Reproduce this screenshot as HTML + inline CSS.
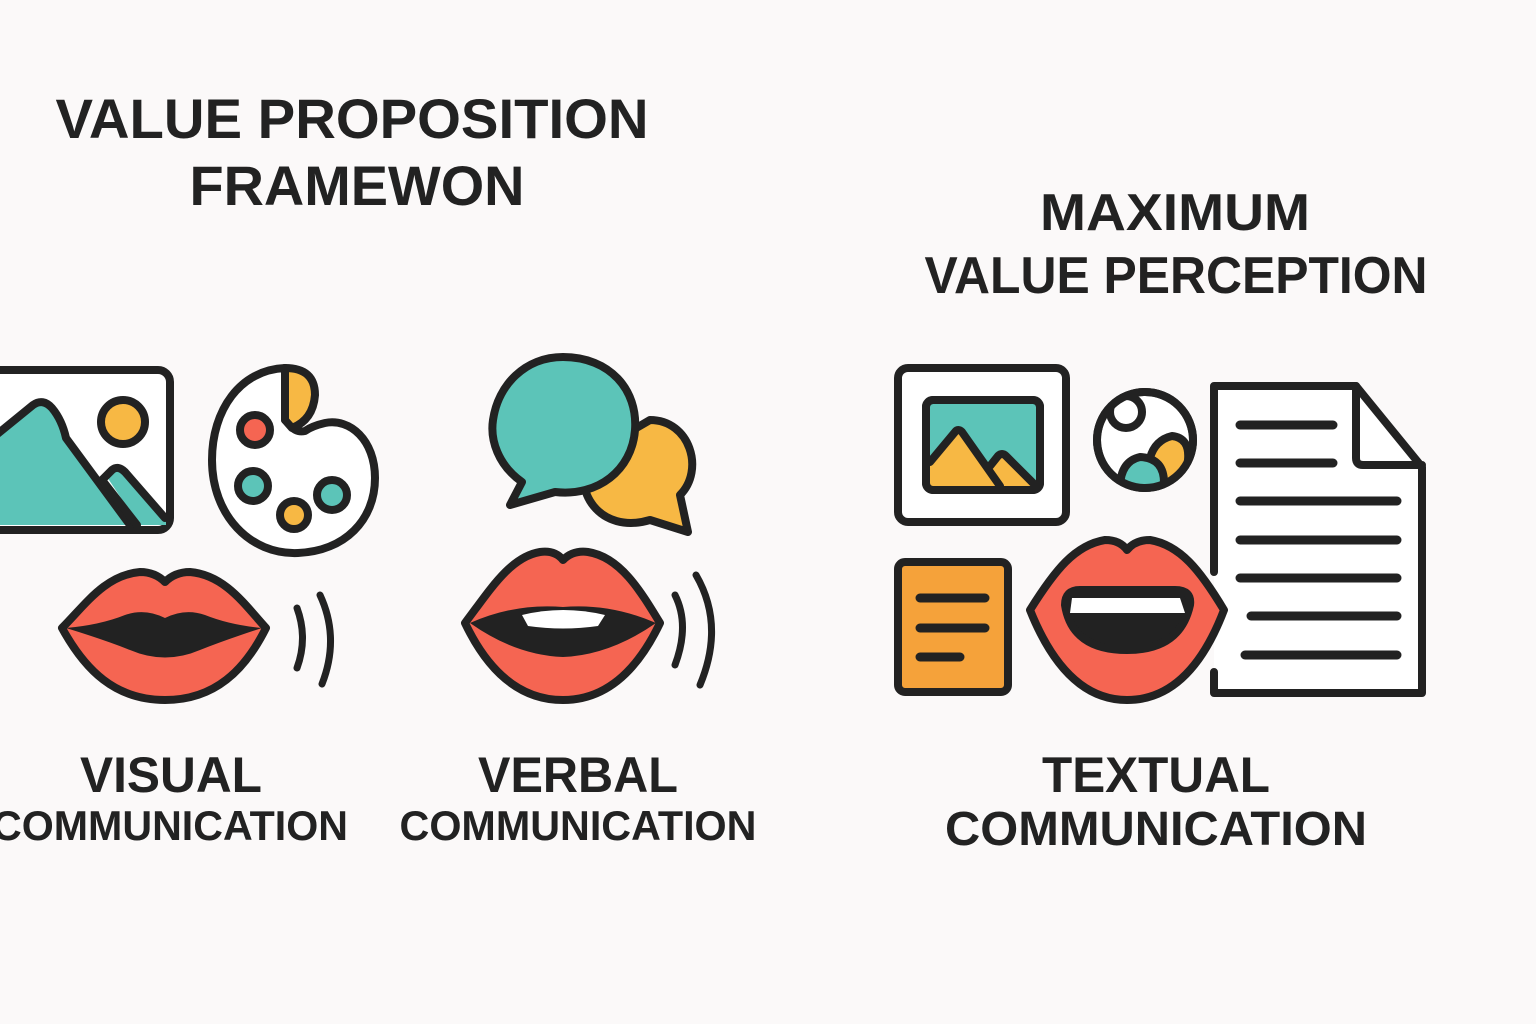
<!DOCTYPE html>
<html><head><meta charset="utf-8"><style>
html,body{margin:0;padding:0;background:#fbf9f9}
svg{display:block}
text{font-family:"Liberation Sans",sans-serif;font-weight:bold;fill:#222;text-anchor:middle}
</style></head><body>
<svg width="1536" height="1024" viewBox="0 0 1536 1024" xmlns="http://www.w3.org/2000/svg">
<defs><clipPath id="g"><circle cx="1145" cy="440" r="46"/></clipPath></defs>
<rect width="1536" height="1024" fill="#fbf9f9"/>
<g stroke="#222" stroke-width="8" stroke-linejoin="round" stroke-linecap="round">
<path d="M-10 370 H158 a12 12 0 0 1 12 12 V518 a12 12 0 0 1 -12 12 H-10" fill="#fff"/>
<path d="M-10 440 L33 405 Q43 398 52 408 Q62 420 66 438 L130 518 L166 518 L166 525 L-10 525Z" fill="#5cc4b8" stroke="none"/>
<path d="M-10 440 L33 405 Q43 398 52 408 Q62 420 66 438 L130 525" fill="none"/>
<path d="M107 477 L112 470 Q118 465 125 472 L163 520 L137 522Z" fill="#5cc4b8" stroke="none"/>
<path d="M102 480 L112 470 Q118 465 125 472 L165 518 M102 480 L137 525" fill="none"/>
<circle cx="123" cy="422" r="22" fill="#f7b844"/>
<path d="M285 368 C240 370 212 410 212 460 C212 515 250 555 298 553 C345 551 375 520 375 478 C375 440 350 418 325 423 Q312 426 305 431 Q296 433 290 425Z" fill="#fff"/>
<path d="M285 368 Q315 368 315 395 Q313 420 292 428 L285 420Z" fill="#f7b844"/>
<path d="M285 368 V420"/>
<circle cx="255" cy="430" r="15" fill="#f56552"/>
<circle cx="253" cy="486" r="15" fill="#5cc4b8"/>
<circle cx="294" cy="515" r="14" fill="#f7b844"/>
<circle cx="332" cy="495" r="15" fill="#5cc4b8"/>
<path d="M62 628 C85 605 105 575 140 572 Q155 572 165 582 Q175 572 190 572 C225 575 245 605 266 628 C245 670 215 700 165 700 C115 700 85 670 62 628Z" fill="#f56552"/>
<path d="M66 628 Q100 625 125 615 Q145 608 165 618 Q185 608 205 615 Q230 625 262 628 Q225 640 200 650 Q165 665 130 650 Q105 640 66 628Z" fill="#222" stroke="none"/>
<path d="M297 608 Q308 638 297 668 M320 595 Q340 638 322 684" fill="none" stroke-width="7"/>
<path d="M650 420 C690 420 705 470 680 495 L688 532 L650 520 C600 535 570 490 590 455Z" fill="#f7b844"/>
<path d="M563 357 C610 357 638 390 635 430 C632 470 598 497 555 492 L510 505 L522 482 C498 465 490 440 493 420 C498 385 525 357 563 357Z" fill="#5cc4b8"/>
<path d="M465 623 C490 590 510 557 540 552 Q555 550 563 560 Q573 550 588 552 C620 557 640 590 660 623 C640 665 610 700 563 700 C515 700 485 665 465 623Z" fill="#f56552"/>
<path d="M470 623 Q515 603 563 607 Q610 603 656 623 Q610 655 563 657 Q515 655 470 623Z" fill="#222" stroke="none"/>
<path d="M522 615 Q563 605 605 615 L598 626 Q563 631 528 626Z" fill="#fff" stroke="none"/>
<path d="M675 595 Q690 625 675 665 M696 575 Q725 625 700 685" fill="none" stroke-width="7"/>
<rect x="898" y="368" width="168" height="154" rx="10" fill="#fff"/>
<rect x="926" y="400" width="114" height="90" rx="7" fill="#5cc4b8"/>
<path d="M930 462 L955 432 Q958 428 962 432 L990 466 L998 456 Q1002 452 1006 456 L1036 486 L930 486Z" fill="#f7b844" stroke="none"/>
<path d="M930 462 L955 432 Q958 428 962 432 L1000 486 M990 466 L998 456 Q1002 452 1006 456 L1036 486" fill="none"/>
<rect x="926" y="400" width="114" height="90" rx="7" fill="none"/>
<circle cx="1145" cy="440" r="48" fill="#fff"/>
<g clip-path="url(#g)">
<path d="M1150 500 Q1185 485 1188 460 Q1190 438 1172 436 Q1155 440 1150 458Z" fill="#f7b844"/>
<path d="M1120 495 Q1118 462 1140 457 Q1165 458 1164 485 Q1150 505 1120 495Z" fill="#5cc4b8"/>
<circle cx="1126" cy="412" r="16" fill="#fff"/>
</g>
<circle cx="1145" cy="440" r="48" fill="none"/>
<path d="M1214 572 V386 H1356 L1422 467 V693 H1214 V672" fill="#fff"/>
<path d="M1356 386 V458 Q1356 465 1363 465 H1422" fill="none"/>
<path d="M1240 425 H1333 M1240 463 H1333 M1240 501 H1397 M1240 540 H1397 M1240 578 H1397 M1251 616 H1397 M1245 655 H1397" stroke-width="9"/>
<rect x="898" y="562" width="110" height="130" rx="7" fill="#f5a23a"/>
<path d="M920 598 H985 M920 628 H985 M920 657 H960" stroke-width="9"/>
<path d="M1030 610 C1055 570 1075 545 1105 540 Q1120 540 1127 550 Q1135 540 1150 540 C1180 545 1200 570 1224 610 C1205 660 1175 700 1127 700 C1080 700 1050 660 1030 610Z" fill="#f56552"/>
<path d="M1065 605 Q1065 590 1080 590 H1175 Q1192 590 1190 605 Q1180 650 1127 650 Q1072 650 1065 605Z" fill="#222"/>
<path d="M1072 598 H1180 L1185 613 H1070Z" fill="#fff" stroke="none"/>
</g>
<text x="352" y="138" font-size="56" textLength="593" lengthAdjust="spacingAndGlyphs">VALUE PROPOSITION</text>
<text x="357" y="205" font-size="56" textLength="335" lengthAdjust="spacingAndGlyphs">FRAMEWON</text>
<text x="1175" y="230" font-size="52" textLength="270" lengthAdjust="spacingAndGlyphs">MAXIMUM</text>
<text x="1176" y="293" font-size="52" textLength="503" lengthAdjust="spacingAndGlyphs">VALUE PERCEPTION</text>
<text x="171" y="792" font-size="50" textLength="182" lengthAdjust="spacingAndGlyphs">VISUAL</text>
<text x="170" y="840" font-size="42" textLength="356" lengthAdjust="spacingAndGlyphs">COMMUNICATION</text>
<text x="578" y="792" font-size="50" textLength="200" lengthAdjust="spacingAndGlyphs">VERBAL</text>
<text x="578" y="840" font-size="42" textLength="357" lengthAdjust="spacingAndGlyphs">COMMUNICATION</text>
<text x="1156" y="792" font-size="50" textLength="228" lengthAdjust="spacingAndGlyphs">TEXTUAL</text>
<text x="1156" y="845" font-size="48" textLength="422" lengthAdjust="spacingAndGlyphs">COMMUNICATION</text>
</svg>
</body></html>
